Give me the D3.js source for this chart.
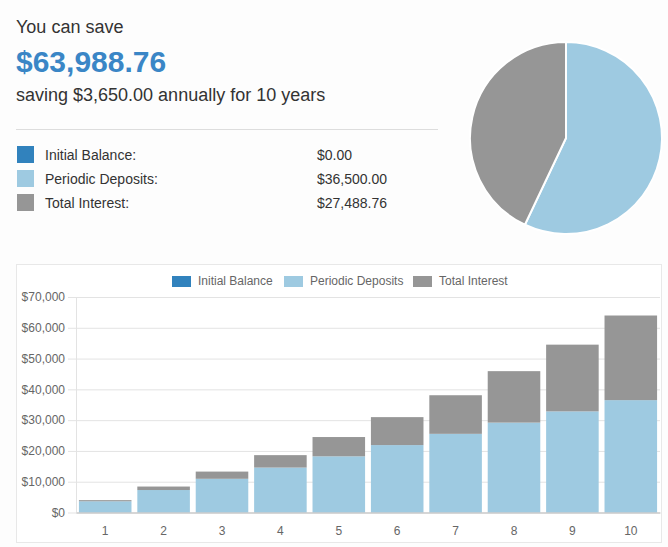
<!DOCTYPE html>
<html>
<head>
<meta charset="utf-8">
<script src="https://cdn.jsdelivr.net/npm/d3@7"></script>
<style>
  html, body { margin: 0; padding: 0; background: #fdfdfd; }
  svg { display: block; font-family: "Liberation Sans", Arial, sans-serif; }
</style>
</head>
<body>
<svg id="chart" width="668" height="547"></svg>
<script>
// ---- data ----
const years = ["1","2","3","4","5","6","7","8","9","10"];
const initialBalance = [0,0,0,0,0,0,0,0,0,0];
const periodicDeposits = [3650,7300,10950,14600,18250,21900,25550,29200,32850,36500];
const totalInterest = [365,1131.5,2339.65,4033.6,6261.98,9078.2,12541,16715.1,21671.6,27488.76];
const seriesNames = ["Initial Balance","Periodic Deposits","Total Interest"];
const summaryLabels = ["Initial Balance:","Periodic Deposits:","Total Interest:"];
const summaryValues = [0, 36500, 27488.76];
const yTicks = [0,10000,20000,30000,40000,50000,60000,70000];
const totalSaved = 63988.76;
const annualDeposit = 3650;
const numYears = 10;

const colors = ["#3182bd","#9ecae1","#969696"];
const svg = d3.select("#chart");
const money2 = d3.format("$,.2f");

// ---- header ----
svg.append("text").attr("x",16).attr("y",33).attr("font-size",18).attr("fill","#333")
  .text("You can save");
svg.append("text").attr("x",16).attr("y",72).attr("font-size",30).attr("font-weight","bold")
  .attr("fill","#3a86c6").text(money2(totalSaved));
svg.append("text").attr("x",16).attr("y",101).attr("font-size",18).attr("fill","#333")
  .text(`saving ${money2(annualDeposit)} annually for ${numYears} years`);
svg.append("line").attr("x1",16).attr("x2",438).attr("y1",129.5).attr("y2",129.5)
  .attr("stroke","#dddddd");

// ---- summary legend ----
const rows = svg.append("g").selectAll("g").data(summaryLabels).join("g")
  .attr("transform",(d,i)=>`translate(0,${146 + i*24})`);
rows.append("rect").attr("x",17).attr("y",0).attr("width",17).attr("height",17)
  .attr("fill",(d,i)=>colors[i]);
rows.append("text").attr("x",45).attr("y",14).attr("font-size",14).attr("fill","#333").text(d=>d);
rows.append("text").attr("x",317).attr("y",14).attr("font-size",14).attr("fill","#333")
  .text((d,i)=>money2(summaryValues[i]));

// ---- pie ----
const pie = d3.pie().sort(null).value(d=>d);
const arc = d3.arc().innerRadius(0).outerRadius(96);
svg.append("g").attr("transform","translate(566,138)")
  .selectAll("path").data(pie(summaryValues)).join("path")
  .attr("d",arc).attr("fill",(d,i)=>colors[i])
  .attr("stroke","#ffffff").attr("stroke-width",2);

// ---- bar chart box ----
svg.append("rect").attr("x",16.5).attr("y",264.5).attr("width",645).attr("height",278)
  .attr("fill","#ffffff").attr("stroke","#e8e8e8");

// legend
const legItems = [
  {name: seriesNames[0], x: 172},
  {name: seriesNames[1], x: 284},
  {name: seriesNames[2], x: 413}
];
const lg = svg.append("g").selectAll("g").data(legItems).join("g");
lg.append("rect").attr("x",d=>d.x).attr("y",276).attr("width",19).attr("height",11)
  .attr("fill",(d,i)=>colors[i]);
lg.append("text").attr("x",d=>d.x+26).attr("y",284.5).attr("font-size",12).attr("fill","#666")
  .text(d=>d.name);

const x = d3.scaleBand().domain(years).range([76,660]).paddingInner(0.1).paddingOuter(0.05);
const y = d3.scaleLinear().domain([0,70000]).range([512.5,297]);

// gridlines
const yAxis = d3.axisLeft(y).tickValues(yTicks).tickFormat(d3.format("$,"))
  .tickSize(-(660-68)).tickPadding(3);
const gy = svg.append("g").attr("transform","translate(68,0)").call(yAxis);
gy.select(".domain").remove();
gy.selectAll(".tick line").attr("stroke","#e3e3e3");
gy.selectAll(".tick text").attr("font-size",12).attr("fill","#666")
  .attr("font-family","'Liberation Sans', Arial, sans-serif");

svg.append("line").attr("x1",76.5).attr("x2",76.5).attr("y1",297).attr("y2",512.5)
  .attr("stroke","#e3e3e3");

// stacked bars
const stackData = years.map((yr,i)=>({year: yr, a: initialBalance[i], b: periodicDeposits[i], c: totalInterest[i]}));
const stack = d3.stack().keys(["a","b","c"])(stackData);
svg.append("g").selectAll("g").data(stack).join("g")
  .attr("fill",(d,i)=>colors[i])
  .selectAll("rect").data(d=>d).join("rect")
  .attr("x",d=>x(d.data.year)).attr("width",x.bandwidth())
  .attr("y",d=>y(d[1])).attr("height",d=>y(d[0])-y(d[1]));

// x axis
const xAxis = d3.axisBottom(x).tickSize(0).tickPadding(14);
const gx = svg.append("g").attr("transform","translate(0,512.5)").call(xAxis);
gx.select(".domain").attr("stroke","#bbbbbb");
gx.selectAll(".tick text").attr("font-size",12).attr("fill","#666")
  .attr("font-family","'Liberation Sans', Arial, sans-serif");
</script>
</body>
</html>
